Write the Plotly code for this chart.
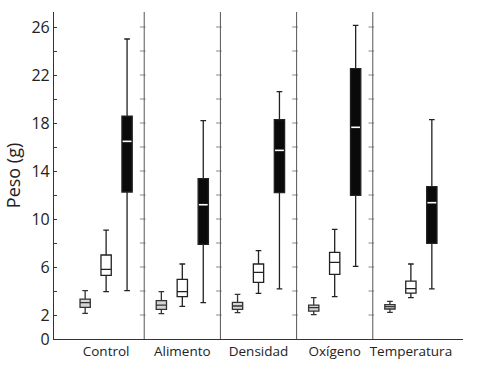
import plotly.graph_objects as go

groups = ["Control", "Alimento", "Densidad", "Oxígeno", "Temperatura"]

# per series: lower whisker, q1, median, q3, upper whisker (per group)
grey_low = [2.14, 2.11, 2.19, 2.03, 2.22]
grey_q1 = [2.64, 2.47, 2.47, 2.33, 2.50]
grey_med = [3.03, 2.83, 2.75, 2.61, 2.69]
grey_q3 = [3.33, 3.19, 3.06, 2.83, 2.86]
grey_high = [4.03, 3.94, 3.72, 3.44, 3.14]

white_low = [3.94, 2.72, 3.81, 3.53, 3.44]
white_q1 = [5.31, 3.53, 4.72, 5.39, 3.83]
white_med = [5.81, 3.94, 5.56, 6.39, 4.19]
white_q3 = [7.00, 4.97, 6.25, 7.22, 4.83]
white_high = [9.08, 6.25, 7.36, 9.14, 6.25]

black_low = [4.03, 3.03, 4.17, 6.06, 4.17]
black_q1 = [12.25, 7.89, 12.19, 11.97, 7.97]
black_med = [16.47, 11.19, 15.72, 17.64, 11.36]
black_q3 = [18.58, 13.36, 18.28, 22.53, 12.69]
black_high = [25.0, 18.19, 20.61, 26.14, 18.28]

ytick_vals = [0, 2, 4, 6, 8, 10, 12, 14, 16, 18, 20, 22, 24, 26]
ytick_text = ["0", "2", "", "6", "", "10", "", "14", "", "18", "", "22", "", "26"]

offset = 0.275
bw = 0.135
pos = list(range(len(groups)))

series = [
    (-offset, grey_low, grey_q1, grey_med, grey_q3, grey_high, "#d4d4d4", "#333333"),
    (0.0, white_low, white_q1, white_med, white_q3, white_high, "#ffffff", "#222222"),
    (offset, black_low, black_q1, black_med, black_q3, black_high, "#0a0a0a", "#222222"),
]

fig = go.Figure()
for off, lo, q1, med, q3, hi, fill, line in series:
    fig.add_trace(go.Box(
        x=[p + off for p in pos],
        lowerfence=lo, q1=q1, median=med, q3=q3, upperfence=hi,
        fillcolor=fill, line=dict(color=line, width=1.3),
        width=bw, whiskerwidth=0.55, boxpoints=False, showlegend=False,
        hoverinfo="skip",
    ))

# white median lines on the black boxes
for i, p in enumerate(pos):
    fig.add_trace(go.Scatter(
        x=[p + offset - bw / 2 + 0.01, p + offset + bw / 2 - 0.01],
        y=[black_med[i], black_med[i]], mode="lines",
        line=dict(color="white", width=1.6), showlegend=False, hoverinfo="skip",
    ))

# group separators
for i in range(len(groups) - 1):
    fig.add_shape(type="line", xref="x", yref="y", x0=i + 0.5, x1=i + 0.5,
                  y0=0, y1=27.25, line=dict(color="#555555", width=1))
    fig.add_trace(go.Scatter(
        x=[i + 0.5 - 0.02] * (len(ytick_vals) - 1), y=ytick_vals[1:],
        mode="markers", marker=dict(symbol="line-ew", size=4,
                                    line=dict(color="#888888", width=1)),
        showlegend=False, hoverinfo="skip"))

fig.update_layout(
    width=478, height=370,
    margin=dict(l=54, r=15, t=12, b=31),
    paper_bgcolor="white", plot_bgcolor="white",
    font=dict(family="Open Sans, sans-serif", color="#222222", size=14),
    xaxis=dict(range=[-0.684, 4.684], tickvals=pos, ticktext=groups,
               showgrid=False, zeroline=False, showline=True,
               linecolor="#333333", linewidth=1.2, ticks="",
               tickfont=dict(size=13.5), fixedrange=True, automargin=False),
    yaxis=dict(range=[0, 27.25], tickvals=ytick_vals, ticktext=ytick_text,
               showgrid=False, zeroline=False, showline=True,
               linecolor="#333333", linewidth=1.2, ticks="inside", ticklen=3,
               tickcolor="#333333", tickfont=dict(size=16), automargin=False,
               title=dict(text="Peso (g)", font=dict(size=18), standoff=6)),
)

fig.write_html("out.html", post_script="document.body.style.margin='0';",
               config={"displayModeBar": False})
